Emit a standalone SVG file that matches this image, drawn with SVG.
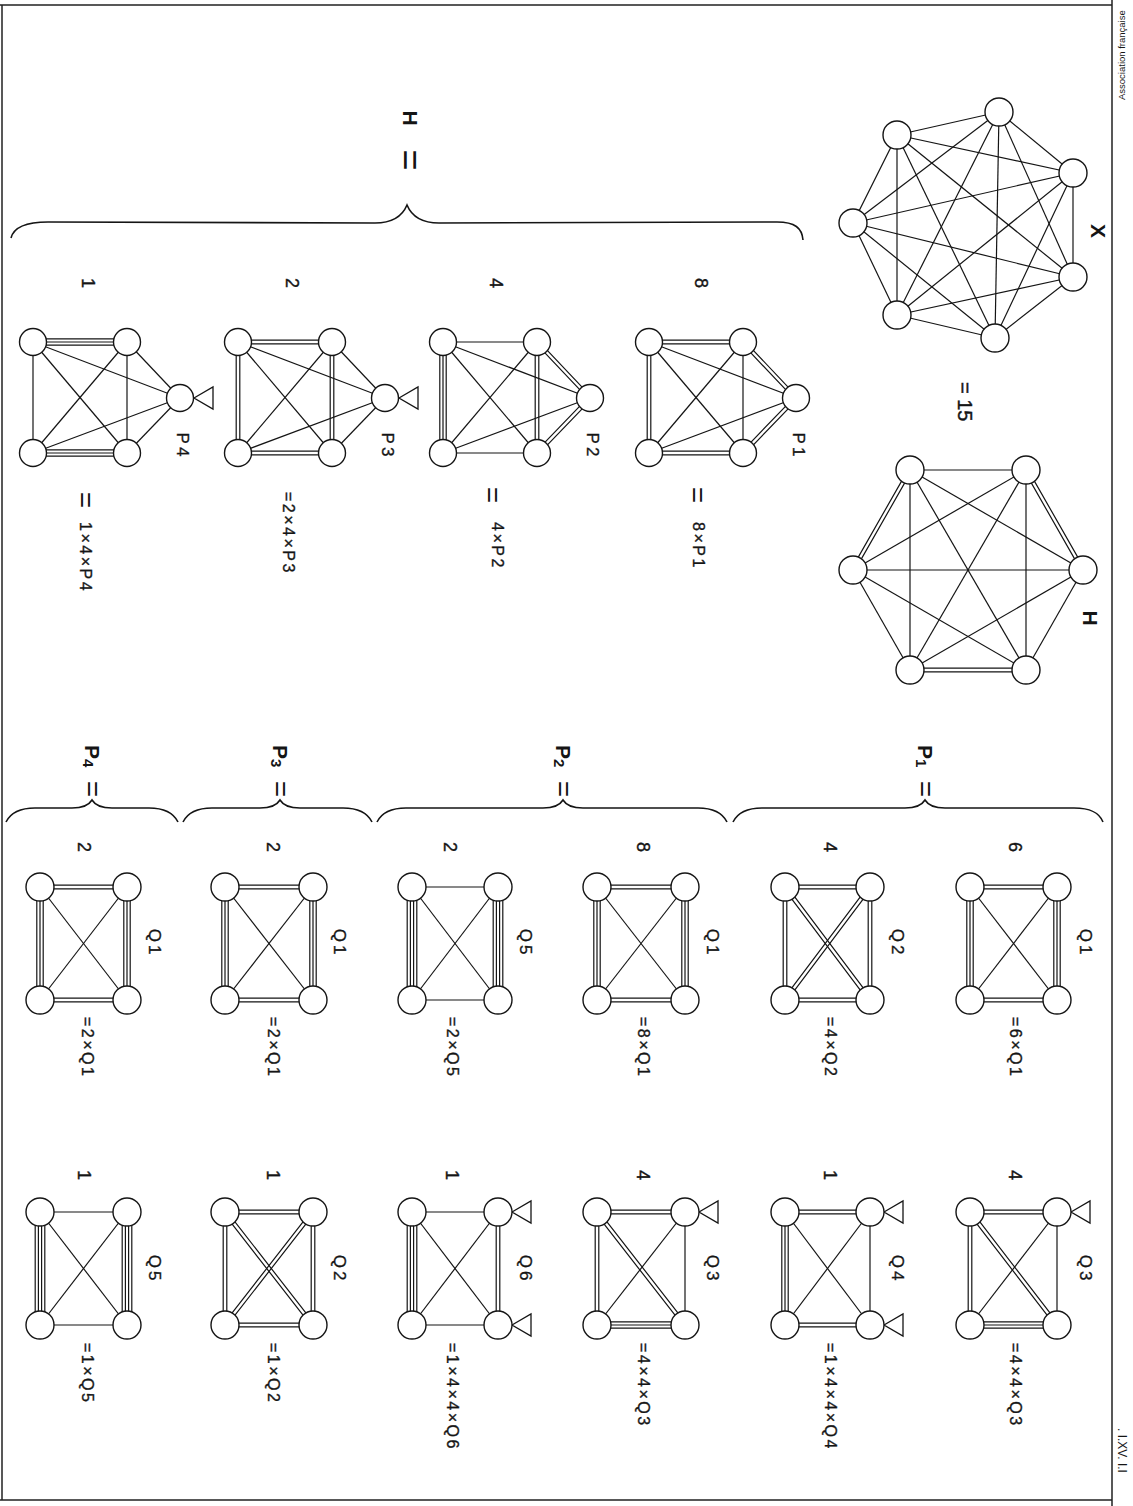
<svg xmlns="http://www.w3.org/2000/svg" width="1133" height="1506" viewBox="0 0 1133 1506">
<style>
.c path{stroke:#151515;stroke-width:1.2;fill:none}
.n circle{fill:#fff;stroke:#151515;stroke-width:1.4}
.n polygon{fill:#fff;stroke:#151515;stroke-width:1.3}
.br{stroke:#151515;stroke-width:1.6;fill:none}
.bd{stroke:#222;stroke-width:1.5;fill:none}
text{font-family:"Liberation Sans",Arial,sans-serif;fill:#151515}
.t{font-size:18px;text-anchor:middle;dominant-baseline:central;stroke:#151515;stroke-width:0.4px}
.s{font-size:16px;text-anchor:start;dominant-baseline:central;letter-spacing:2.5px;stroke:#151515;stroke-width:0.35px}
.q{font-size:17px;text-anchor:middle;dominant-baseline:central;letter-spacing:3px;stroke:#151515;stroke-width:0.35px}
.b{font-size:21px;font-weight:bold;text-anchor:middle;dominant-baseline:central}
.eq{font-size:28px;text-anchor:middle;dominant-baseline:central}
.m{font-size:9.5px;dominant-baseline:central}
</style>
<g id="frame">
<path class="bd" d="M0 5H1112M2 5V1500M0 1500H1112M1112 0V1506"/>
<text class="m" transform="translate(1121,100) rotate(-90)">Association française</text>
<text class="m" transform="translate(1122,1428) rotate(90)" style="font-size:12px">. I.XV. I.I</text>
</g>
<g id="braces">
<path class="br" d="M11 238C14 226 28 222 48 222L375 223C392 223 402 217 407 205C412 217 422 223 439 223L777 222C795 222 802 228 803 240"/>
<path class="br" d="M733 822C738 812 748 808 762 808L905 808C916 808 922 805 925 800C928 805 934 808 945 808L1074 808C1090 808 1099 812 1103 822"/>
<path class="br" d="M377 822C382 812 392 808 406 808L543 808C554 808 560 805 563 800C566 805 572 808 583 808L698 808C712 808 722 812 727 822"/>
<path class="br" d="M183 822C188 812 198 808 212 808L260 808C271 808 277 805 280 800C283 805 289 808 300 808L343 808C357 808 367 812 372 822"/>
<path class="br" d="M6 822C11 812 21 808 35 808L72 808C83 808 89 805 92 800C95 805 101 808 112 808L149 808C163 808 173 812 178 822"/>
</g>
<g id="connectors" class="c">
<g id="cX">
<path d="M999 112L897 135"/><path d="M999 112L853 223"/><path d="M999 112L897 315"/><path d="M999 112L995 338"/><path d="M999 112L1073 277"/><path d="M999 112L1073 173"/>
<path d="M897 135L853 223"/><path d="M897 135L897 315"/><path d="M897 135L995 338"/><path d="M897 135L1073 277"/><path d="M897 135L1073 173"/>
<path d="M853 223L897 315"/><path d="M853 223L995 338"/><path d="M853 223L1073 277"/><path d="M853 223L1073 173"/>
<path d="M897 315L995 338"/><path d="M897 315L1073 277"/><path d="M897 315L1073 173"/>
<path d="M995 338L1073 277"/><path d="M995 338L1073 173"/><path d="M1073 277L1073 173"/>
</g>
<g id="cH">
<path d="M910 470L1026 470"/><path d="M911.56 470.89L854.56 570.89M908.44 469.11L851.44 569.11"/><path d="M910 470L1083 570"/><path d="M910 470L910 670"/><path d="M910 470L1026 670"/>
<path d="M1026 470L853 570"/><path d="M1027.56 469.11L1084.56 569.11M1024.44 470.89L1081.44 570.89"/><path d="M1026 470L910 670"/><path d="M1026 470L1026 670"/>
<path d="M853 570L1083 570"/><path d="M853 570L910 670"/><path d="M853 570L1026 670"/>
<path d="M1083 570L910 670"/><path d="M1083 570L1026 670"/>
<path d="M910 668.2H1026M910 671.8H1026"/>
</g>
<g id="cP1">
<path d="M649 340.2H743M649 343.8H743"/><path d="M647.2 342V453M650.8 342V453"/><path d="M649 451.2H743M649 454.8H743"/>
<path d="M744.3 340.8L797.3 396.8M741.7 343.2L794.7 399.2"/><path d="M797.3 399.3L744.3 454.3M794.7 396.8L741.7 451.8"/>
<path d="M743 342V453"/><path d="M649 342L743 453"/><path d="M743 342L649 453"/><path d="M649 342L796 398"/><path d="M649 453L796 398"/>
</g>
<g id="cP2">
<path d="M443 342H537"/><path d="M439.8 342V453M443 342V453M446.2 342V453"/><path d="M443 453H537"/>
<path d="M538.3 340.8L591.3 396.8M535.7 343.2L588.7 399.2"/><path d="M591.3 399.3L538.3 454.3M588.7 396.8L535.7 451.8"/>
<path d="M535.2 342V453M538.8 342V453"/><path d="M443 342L537 453"/><path d="M537 342L443 453"/><path d="M443 342L590 398"/><path d="M443 453L590 398"/>
</g>
<g id="cP3">
<path d="M238 340.2H332M238 343.8H332"/><path d="M236.2 342V453M239.8 342V453"/><path d="M330.2 342V453M333.8 342V453"/><path d="M238 451.2H332M238 454.8H332"/>
<path d="M238 342L332 453"/><path d="M332 342L238 453"/><path d="M238 342L385 398"/><path d="M238 453L385 398"/><path d="M332 342L385 398"/><path d="M332 453L385 398"/>
</g>
<g id="cP4">
<path d="M33 338.8H127M33 342H127M33 345.2H127"/><path d="M33 449.8H127M33 453H127M33 456.2H127"/><path d="M33 342V453"/><path d="M127 342V453"/>
<path d="M33 342L127 453"/><path d="M127 342L33 453"/><path d="M33 342L180 398"/><path d="M33 453L180 398"/><path d="M127 342L180 398"/><path d="M127 453L180 398"/>
</g>
<g id="cA1">
<path d="M970 885.2H1057M970 888.8H1057"/><path d="M970 998.2H1057M970 1001.8H1057"/><path d="M966.8 887V1000M970 887V1000M973.2 887V1000"/><path d="M1053.8 887V1000M1057 887V1000M1060.2 887V1000"/><path d="M970 887L1057 1000"/><path d="M1057 887L970 1000"/>
</g>
<g id="cA2">
<path d="M970 1210.2H1057M970 1213.8H1057"/><path d="M968.2 1212V1325M971.8 1212V1325"/><path d="M971.43 1210.9L1058.43 1323.9M968.57 1213.1L1055.57 1326.1"/><path d="M1057 1212L970 1325"/><path d="M1057 1212V1325"/><path d="M970 1321.8H1057M970 1325H1057M970 1328.2H1057"/>
</g>
<g id="cB1">
<path d="M785 885.2H870M785 888.8H870"/><path d="M785 998.2H870M785 1001.8H870"/><path d="M783.2 887V1000M786.8 887V1000"/><path d="M868.2 887V1000M871.8 887V1000"/><path d="M786.44 885.92L871.44 998.92M783.56 888.08L868.56 1001.08"/><path d="M871.44 888.08L786.44 1001.08M868.56 885.92L783.56 998.92"/>
</g>
<g id="cB2">
<path d="M785 1210.2H870M785 1213.8H870"/><path d="M785 1323.2H870M785 1326.8H870"/><path d="M781.8 1212V1325M785 1212V1325M788.2 1212V1325"/><path d="M870 1212V1325"/><path d="M785 1212L870 1325"/><path d="M870 1212L785 1325"/>
</g>
<g id="cC1">
<path d="M597 885.2H685M597 888.8H685"/><path d="M597 998.2H685M597 1001.8H685"/><path d="M593.8 887V1000M597 887V1000M600.2 887V1000"/><path d="M681.8 887V1000M685 887V1000M688.2 887V1000"/><path d="M597 887L685 1000"/><path d="M685 887L597 1000"/>
</g>
<g id="cC2">
<path d="M597 1210.2H685M597 1213.8H685"/><path d="M595.2 1212V1325M598.8 1212V1325"/><path d="M598.42 1210.89L686.42 1323.89M595.58 1213.11L683.58 1326.11"/><path d="M685 1212L597 1325"/><path d="M685 1212V1325"/><path d="M597 1321.8H685M597 1325H685M597 1328.2H685"/>
</g>
<g id="cD1">
<path d="M412 887H498"/><path d="M412 1000H498"/><path d="M407.2 887V1000M410.4 887V1000M413.6 887V1000M416.8 887V1000"/><path d="M493.2 887V1000M496.4 887V1000M499.6 887V1000M502.8 887V1000"/><path d="M412 887L498 1000"/><path d="M498 887L412 1000"/>
</g>
<g id="cD2">
<path d="M412 1212H498"/><path d="M412 1325H498"/><path d="M407.2 1212V1325M410.4 1212V1325M413.6 1212V1325M416.8 1212V1325"/><path d="M496.2 1212V1325M499.8 1212V1325"/><path d="M412 1212L498 1325"/><path d="M498 1212L412 1325"/>
</g>
<g id="cE1">
<path d="M225 885.2H313M225 888.8H313"/><path d="M225 998.2H313M225 1001.8H313"/><path d="M221.8 887V1000M225 887V1000M228.2 887V1000"/><path d="M309.8 887V1000M313 887V1000M316.2 887V1000"/><path d="M225 887L313 1000"/><path d="M313 887L225 1000"/>
</g>
<g id="cE2">
<path d="M225 1210.2H313M225 1213.8H313"/><path d="M225 1323.2H313M225 1326.8H313"/><path d="M223.2 1212V1325M226.8 1212V1325"/><path d="M311.2 1212V1325M314.8 1212V1325"/><path d="M226.42 1210.89L314.42 1323.89M223.58 1213.11L311.58 1326.11"/><path d="M314.42 1213.11L226.42 1326.11M311.58 1210.89L223.58 1323.89"/>
</g>
<g id="cF1">
<path d="M40 885.2H127M40 888.8H127"/><path d="M40 998.2H127M40 1001.8H127"/><path d="M36.8 887V1000M40 887V1000M43.2 887V1000"/><path d="M123.8 887V1000M127 887V1000M130.2 887V1000"/><path d="M40 887L127 1000"/><path d="M127 887L40 1000"/>
</g>
<g id="cF2">
<path d="M40 1212H127"/><path d="M40 1325H127"/><path d="M35.2 1212V1325M38.4 1212V1325M41.6 1212V1325M44.8 1212V1325"/><path d="M122.2 1212V1325M125.4 1212V1325M128.6 1212V1325M131.8 1212V1325"/><path d="M40 1212L127 1325"/><path d="M127 1212L40 1325"/>
</g>
</g>
<g id="nodes" class="n">
<g id="X1"><circle cx="999" cy="112" r="14"/></g>
<g id="X2"><circle cx="897" cy="135" r="14"/></g>
<g id="X3"><circle cx="853" cy="223" r="14"/></g>
<g id="X4"><circle cx="897" cy="315" r="14"/></g>
<g id="X5"><circle cx="995" cy="338" r="14"/></g>
<g id="X6"><circle cx="1073" cy="277" r="14"/></g>
<g id="X7"><circle cx="1073" cy="173" r="14"/></g>
<g id="H1"><circle cx="910" cy="470" r="14"/></g>
<g id="H2"><circle cx="1026" cy="470" r="14"/></g>
<g id="H3"><circle cx="853" cy="570" r="14"/></g>
<g id="H4"><circle cx="1083" cy="570" r="14"/></g>
<g id="H5"><circle cx="910" cy="670" r="14"/></g>
<g id="H6"><circle cx="1026" cy="670" r="14"/></g>
<g id="P1a"><circle cx="649" cy="342" r="13.5"/></g>
<g id="P1b"><circle cx="743" cy="342" r="13.5"/></g>
<g id="P1c"><circle cx="796" cy="398" r="13.5"/></g>
<g id="P1d"><circle cx="743" cy="453" r="13.5"/></g>
<g id="P1e"><circle cx="649" cy="453" r="13.5"/></g>
<g id="P2a"><circle cx="443" cy="342" r="13.5"/></g>
<g id="P2b"><circle cx="537" cy="342" r="13.5"/></g>
<g id="P2c"><circle cx="590" cy="398" r="13.5"/></g>
<g id="P2d"><circle cx="537" cy="453" r="13.5"/></g>
<g id="P2e"><circle cx="443" cy="453" r="13.5"/></g>
<g id="P3a"><circle cx="238" cy="342" r="13.5"/></g>
<g id="P3b"><circle cx="332" cy="342" r="13.5"/></g>
<g id="P3c"><polygon points="399,398 418,387 418,409"/><circle cx="385" cy="398" r="13.5"/></g>
<g id="P3d"><circle cx="332" cy="453" r="13.5"/></g>
<g id="P3e"><circle cx="238" cy="453" r="13.5"/></g>
<g id="P4a"><circle cx="33" cy="342" r="13.5"/></g>
<g id="P4b"><circle cx="127" cy="342" r="13.5"/></g>
<g id="P4c"><polygon points="194,398 213,387 213,409"/><circle cx="180" cy="398" r="13.5"/></g>
<g id="P4d"><circle cx="127" cy="453" r="13.5"/></g>
<g id="P4e"><circle cx="33" cy="453" r="13.5"/></g>
<g id="A1a"><circle cx="970" cy="887" r="14"/></g>
<g id="A1b"><circle cx="1057" cy="887" r="14"/></g>
<g id="A1c"><circle cx="970" cy="1000" r="14"/></g>
<g id="A1d"><circle cx="1057" cy="1000" r="14"/></g>
<g id="A2a"><circle cx="970" cy="1212" r="14"/></g>
<g id="A2b"><polygon points="1071,1212 1090,1201 1090,1223"/><circle cx="1057" cy="1212" r="14"/></g>
<g id="A2c"><circle cx="970" cy="1325" r="14"/></g>
<g id="A2d"><circle cx="1057" cy="1325" r="14"/></g>
<g id="B1a"><circle cx="785" cy="887" r="14"/></g>
<g id="B1b"><circle cx="870" cy="887" r="14"/></g>
<g id="B1c"><circle cx="785" cy="1000" r="14"/></g>
<g id="B1d"><circle cx="870" cy="1000" r="14"/></g>
<g id="B2a"><circle cx="785" cy="1212" r="14"/></g>
<g id="B2b"><polygon points="884,1212 903,1201 903,1223"/><circle cx="870" cy="1212" r="14"/></g>
<g id="B2c"><circle cx="785" cy="1325" r="14"/></g>
<g id="B2d"><polygon points="884,1325 903,1314 903,1336"/><circle cx="870" cy="1325" r="14"/></g>
<g id="C1a"><circle cx="597" cy="887" r="14"/></g>
<g id="C1b"><circle cx="685" cy="887" r="14"/></g>
<g id="C1c"><circle cx="597" cy="1000" r="14"/></g>
<g id="C1d"><circle cx="685" cy="1000" r="14"/></g>
<g id="C2a"><circle cx="597" cy="1212" r="14"/></g>
<g id="C2b"><polygon points="699,1212 718,1201 718,1223"/><circle cx="685" cy="1212" r="14"/></g>
<g id="C2c"><circle cx="597" cy="1325" r="14"/></g>
<g id="C2d"><circle cx="685" cy="1325" r="14"/></g>
<g id="D1a"><circle cx="412" cy="887" r="14"/></g>
<g id="D1b"><circle cx="498" cy="887" r="14"/></g>
<g id="D1c"><circle cx="412" cy="1000" r="14"/></g>
<g id="D1d"><circle cx="498" cy="1000" r="14"/></g>
<g id="D2a"><circle cx="412" cy="1212" r="14"/></g>
<g id="D2b"><polygon points="512,1212 531,1201 531,1223"/><circle cx="498" cy="1212" r="14"/></g>
<g id="D2c"><circle cx="412" cy="1325" r="14"/></g>
<g id="D2d"><polygon points="512,1325 531,1314 531,1336"/><circle cx="498" cy="1325" r="14"/></g>
<g id="E1a"><circle cx="225" cy="887" r="14"/></g>
<g id="E1b"><circle cx="313" cy="887" r="14"/></g>
<g id="E1c"><circle cx="225" cy="1000" r="14"/></g>
<g id="E1d"><circle cx="313" cy="1000" r="14"/></g>
<g id="E2a"><circle cx="225" cy="1212" r="14"/></g>
<g id="E2b"><circle cx="313" cy="1212" r="14"/></g>
<g id="E2c"><circle cx="225" cy="1325" r="14"/></g>
<g id="E2d"><circle cx="313" cy="1325" r="14"/></g>
<g id="F1a"><circle cx="40" cy="887" r="14"/></g>
<g id="F1b"><circle cx="127" cy="887" r="14"/></g>
<g id="F1c"><circle cx="40" cy="1000" r="14"/></g>
<g id="F1d"><circle cx="127" cy="1000" r="14"/></g>
<g id="F2a"><circle cx="40" cy="1212" r="14"/></g>
<g id="F2b"><circle cx="127" cy="1212" r="14"/></g>
<g id="F2c"><circle cx="40" cy="1325" r="14"/></g>
<g id="F2d"><circle cx="127" cy="1325" r="14"/></g>
</g>
<g id="labels">
<text class="b" transform="translate(1098,231) rotate(90)">X</text>
<text class="t" transform="translate(965,382) rotate(90)" style="text-anchor:start;font-size:20px">= 15</text>
<text class="b" transform="translate(1090,618) rotate(90)">H</text>
<text class="b" transform="translate(410,118) rotate(90)">H</text>
<text class="eq" transform="translate(410,160) rotate(90)" style="font-size:36px">=</text>
<text class="t" transform="translate(88,283) rotate(90)">1</text>
<text class="t" transform="translate(292,283) rotate(90)">2</text>
<text class="t" transform="translate(496,283) rotate(90)">4</text>
<text class="t" transform="translate(701,283) rotate(90)">8</text>
<text class="q" transform="translate(798,446) rotate(90)">P1</text>
<text class="q" transform="translate(592,446) rotate(90)">P2</text>
<text class="q" transform="translate(387,446) rotate(90)">P3</text>
<text class="q" transform="translate(182,446) rotate(90)">P4</text>
<text class="eq" transform="translate(697,495) rotate(90)">=</text>
<text class="s" transform="translate(698,522) rotate(90)">8×P1</text>
<text class="eq" transform="translate(492,495) rotate(90)">=</text>
<text class="s" transform="translate(497,522) rotate(90)">4×P2</text>
<text class="s" transform="translate(288,492) rotate(90)">=2×4×P3</text>
<text class="eq" transform="translate(85,500) rotate(90)">=</text>
<text class="s" transform="translate(85,522) rotate(90)">1×4×P4</text>
<text class="b" transform="translate(925,745) rotate(90)" style="text-anchor:start">P<tspan font-size="15" dy="3">1</tspan></text>
<text class="eq" transform="translate(925,789) rotate(90)">=</text>
<text class="b" transform="translate(563,745) rotate(90)" style="text-anchor:start">P<tspan font-size="15" dy="3">2</tspan></text>
<text class="eq" transform="translate(563,789) rotate(90)">=</text>
<text class="b" transform="translate(280,745) rotate(90)" style="text-anchor:start">P<tspan font-size="15" dy="3">3</tspan></text>
<text class="eq" transform="translate(280,789) rotate(90)">=</text>
<text class="b" transform="translate(92,745) rotate(90)" style="text-anchor:start">P<tspan font-size="15" dy="3">4</tspan></text>
<text class="eq" transform="translate(92,789) rotate(90)">=</text>
<text class="t" transform="translate(1015,847) rotate(90)">6</text>
<text class="q" transform="translate(1085,943) rotate(90)">Q1</text>
<text class="s" transform="translate(1015,1017) rotate(90)">=6×Q1</text>
<text class="t" transform="translate(1015,1175) rotate(90)">4</text>
<text class="q" transform="translate(1085,1269) rotate(90)">Q3</text>
<text class="s" transform="translate(1015,1343) rotate(90)">=4×4×Q3</text>
<text class="t" transform="translate(830,847) rotate(90)">4</text>
<text class="q" transform="translate(897,943) rotate(90)">Q2</text>
<text class="s" transform="translate(830,1017) rotate(90)">=4×Q2</text>
<text class="t" transform="translate(830,1175) rotate(90)">1</text>
<text class="q" transform="translate(897,1269) rotate(90)">Q4</text>
<text class="s" transform="translate(830,1343) rotate(90)">=1×4×4×Q4</text>
<text class="t" transform="translate(643,847) rotate(90)">8</text>
<text class="q" transform="translate(712,943) rotate(90)">Q1</text>
<text class="s" transform="translate(643,1017) rotate(90)">=8×Q1</text>
<text class="t" transform="translate(643,1175) rotate(90)">4</text>
<text class="q" transform="translate(712,1269) rotate(90)">Q3</text>
<text class="s" transform="translate(643,1343) rotate(90)">=4×4×Q3</text>
<text class="t" transform="translate(450,847) rotate(90)">2</text>
<text class="q" transform="translate(525,943) rotate(90)">Q5</text>
<text class="s" transform="translate(452,1017) rotate(90)">=2×Q5</text>
<text class="t" transform="translate(452,1175) rotate(90)">1</text>
<text class="q" transform="translate(525,1269) rotate(90)">Q6</text>
<text class="s" transform="translate(452,1343) rotate(90)">=1×4×4×Q6</text>
<text class="t" transform="translate(273,847) rotate(90)">2</text>
<text class="q" transform="translate(339,943) rotate(90)">Q1</text>
<text class="s" transform="translate(273,1017) rotate(90)">=2×Q1</text>
<text class="t" transform="translate(273,1175) rotate(90)">1</text>
<text class="q" transform="translate(339,1269) rotate(90)">Q2</text>
<text class="s" transform="translate(273,1343) rotate(90)">=1×Q2</text>
<text class="t" transform="translate(84,847) rotate(90)">2</text>
<text class="q" transform="translate(154,943) rotate(90)">Q1</text>
<text class="s" transform="translate(87,1017) rotate(90)">=2×Q1</text>
<text class="t" transform="translate(84,1175) rotate(90)">1</text>
<text class="q" transform="translate(154,1269) rotate(90)">Q5</text>
<text class="s" transform="translate(87,1343) rotate(90)">=1×Q5</text>
</g>
</svg>
